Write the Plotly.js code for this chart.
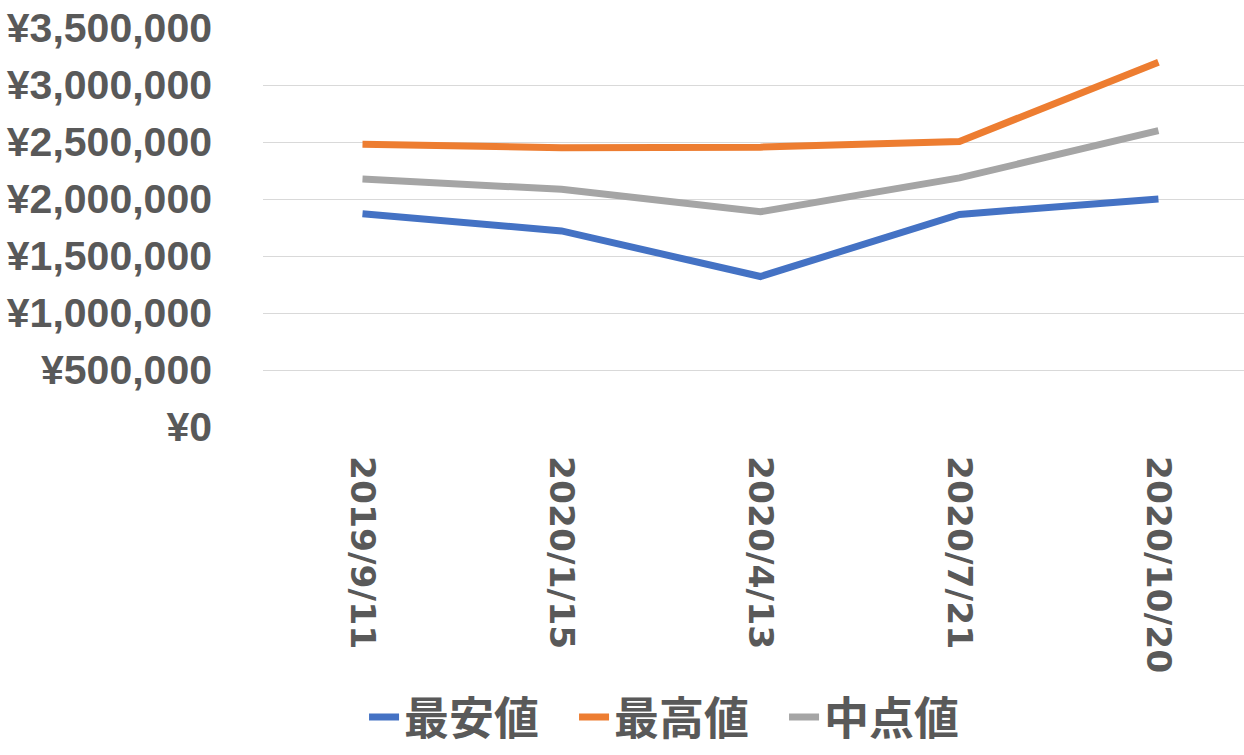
<!DOCTYPE html>
<html><head><meta charset="utf-8">
<script src="https://cdn.plot.ly/plotly-3.0.1.min.js"></script>
<style>html,body{margin:0;padding:0;background:#fff;}#chart{width:1244px;height:755px;}</style>
</head><body><div id="chart"></div>
<script>
const categories = ["2019/9/11", "2020/1/15", "2020/4/13", "2020/7/21", "2020/10/20"];
const seriesNames = ["最安値", "最高値", "中点値"];
const lowValues = [1870000, 1720000, 1320000, 1865000, 2000000];
const highValues = [2480000, 2450000, 2455000, 2505000, 3200000];
const midValues = [2175000, 2085000, 1888000, 2185000, 2600000];
const colors = ["#4472C4", "#ED7D31", "#A5A5A5"];
const allValues = [lowValues, highValues, midValues];

const traces = allValues.map((v, i) => ({
  type: "scatter", mode: "lines", name: seriesNames[i],
  x: categories, y: v,
  line: {color: colors[i], width: 7, shape: "linear"}
}));

const layout = {
  width: 1244, height: 755,
  margin: {l: 263, r: 0, t: 28, b: 328},
  paper_bgcolor: "#fff", plot_bgcolor: "#fff",
  showlegend: true,
  legend: {orientation: "h", xref: "paper", x: 0.103, xanchor: "left",
    yref: "container", y: 0.05, yanchor: "middle",
    font: {family: "Noto Sans CJK JP", size: 45, color: "#595959", weight: "bold"},
    entrywidth: 165, entrywidthmode: "pixels", itemwidth: 30, tracegroupgap: 0},
  xaxis: {type: "category", range: [-0.5, 4.43], showgrid: false, zeroline: false,
    showline: false, tickangle: 90, ticks: "", ticklabelstandoff: 28,
    tickfont: {family: "DejaVu Sans", size: 34.5, color: "#595959", weight: "bold"}},
  yaxis: {range: [0, 3500000], dtick: 500000, tick0: 0, tickprefix: "¥", tickformat: ",d",
    showgrid: true, gridcolor: "#D9D9D9", gridwidth: 1, zeroline: false, showline: false,
    ticks: "", ticklabelstandoff: 50,
    tickfont: {family: "Liberation Sans", size: 41, color: "#595959", weight: "bold"}}
};
Plotly.newPlot("chart", traces, layout, {displayModeBar: false, staticPlot: true});
</script></body></html>
